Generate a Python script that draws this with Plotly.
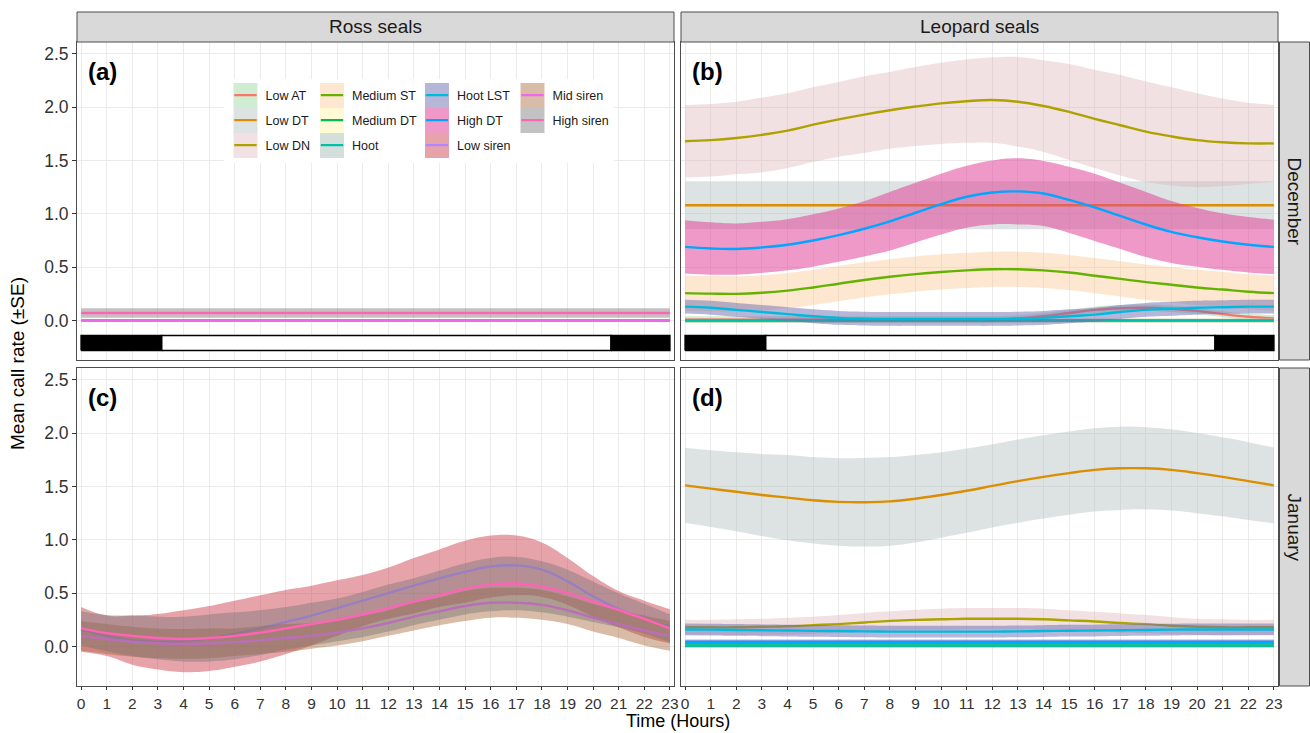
import plotly.graph_objects as go
from plotly.subplots import make_subplots

# ---------------- data ----------------
hours = list(range(24))

series_names = ["Low AT", "Low DT", "Low DN", "Medium ST", "Medium DT", "Hoot",
                "Hoot LST", "High DT", "Low siren", "Mid siren", "High siren"]
line_colors = ["#F8766D", "#DB8E00", "#AEA200", "#64B200", "#00BD5C", "#00C1A7",
               "#00BADE", "#00A6FF", "#B385FF", "#EF67EB", "#FF63B6"]
fill_colors = ["rgba(120,200,130,0.35)", "rgba(170,185,185,0.40)", "rgba(215,170,175,0.35)",
               "rgba(250,195,140,0.40)", "rgba(255,240,150,0.40)", "rgba(160,185,175,0.45)",
               "rgba(110,110,180,0.50)", "rgba(225,70,155,0.55)", "rgba(205,60,75,0.47)",
               "rgba(165,95,45,0.42)", "rgba(120,120,120,0.45)"]

species = ["Ross seals", "Leopard seals"]
months = ["December", "January"]
panel_tags = ["(a)", "(b)", "(c)", "(d)"]
y_ticks = [0.0, 0.5, 1.0, 1.5, 2.0, 2.5]
y_tick_labels = ["0.0", "0.5", "1.0", "1.5", "2.0", "2.5"]

# December day/night bar (hours)
night_end = 3.15
night_start = 20.7
bar_bottom = -0.28
bar_top = -0.14

# (a) Ross seals, December
a_low_siren = [0.00, 0.00, 0.00, 0.00, 0.00, 0.00, 0.00, 0.00, 0.00, 0.00, 0.00, 0.00,
               0.00, 0.00, 0.00, 0.00, 0.00, 0.00, 0.00, 0.00, 0.00, 0.00, 0.00, 0.00]
a_low_siren_se = [0.015, 0.015, 0.015, 0.015, 0.015, 0.015, 0.015, 0.015, 0.015, 0.015, 0.015, 0.015,
                  0.015, 0.015, 0.015, 0.015, 0.015, 0.015, 0.015, 0.015, 0.015, 0.015, 0.015, 0.015]
a_mid_siren = [0.00, 0.00, 0.00, 0.00, 0.00, 0.00, 0.00, 0.00, 0.00, 0.00, 0.00, 0.00,
               0.00, 0.00, 0.00, 0.00, 0.00, 0.00, 0.00, 0.00, 0.00, 0.00, 0.00, 0.00]
a_mid_siren_se = [0.01, 0.01, 0.01, 0.01, 0.01, 0.01, 0.01, 0.01, 0.01, 0.01, 0.01, 0.01,
                  0.01, 0.01, 0.01, 0.01, 0.01, 0.01, 0.01, 0.01, 0.01, 0.01, 0.01, 0.01]
a_high_siren = [0.07, 0.07, 0.07, 0.07, 0.07, 0.07, 0.07, 0.07, 0.07, 0.07, 0.07, 0.07,
                0.07, 0.07, 0.07, 0.07, 0.07, 0.07, 0.07, 0.07, 0.07, 0.07, 0.07, 0.07]
a_high_siren_se = [0.045, 0.045, 0.045, 0.045, 0.045, 0.045, 0.045, 0.045, 0.045, 0.045, 0.045, 0.045,
                   0.045, 0.045, 0.045, 0.045, 0.045, 0.045, 0.045, 0.045, 0.045, 0.045, 0.045, 0.045]

# (b) Leopard seals, December
b_low_at = [0.01, 0.01, 0.01, 0.01, 0.01, 0.01, 0.01, 0.01, 0.01, 0.01, 0.01, 0.01,
            0.01, 0.02, 0.04, 0.07, 0.10, 0.115, 0.12, 0.11, 0.09, 0.06, 0.035, 0.02]
b_low_at_se = [0.03, 0.03, 0.03, 0.03, 0.03, 0.03, 0.03, 0.03, 0.03, 0.03, 0.03, 0.03,
               0.03, 0.03, 0.03, 0.03, 0.03, 0.03, 0.03, 0.03, 0.03, 0.03, 0.03, 0.03]
b_low_dt = [1.08, 1.08, 1.08, 1.08, 1.08, 1.08, 1.08, 1.08, 1.08, 1.08, 1.08, 1.08,
            1.08, 1.08, 1.08, 1.08, 1.08, 1.08, 1.08, 1.08, 1.08, 1.08, 1.08, 1.08]
b_low_dt_se = [0.225, 0.225, 0.225, 0.225, 0.225, 0.225, 0.225, 0.225, 0.225, 0.225, 0.225, 0.225,
               0.225, 0.225, 0.225, 0.225, 0.225, 0.225, 0.225, 0.225, 0.225, 0.225, 0.225, 0.225]
b_low_dn = [1.68, 1.69, 1.71, 1.74, 1.78, 1.835, 1.885, 1.93, 1.97, 2.005, 2.035, 2.055,
            2.066, 2.05, 2.01, 1.955, 1.89, 1.83, 1.77, 1.725, 1.69, 1.67, 1.66, 1.66]
b_low_dn_se = [0.34, 0.34, 0.34, 0.35, 0.35, 0.35, 0.35, 0.36, 0.36, 0.37, 0.38, 0.39,
               0.40, 0.42, 0.43, 0.45, 0.46, 0.47, 0.47, 0.46, 0.44, 0.41, 0.38, 0.36]
b_medium_st = [0.257, 0.252, 0.25, 0.26, 0.28, 0.31, 0.345, 0.38, 0.41, 0.435, 0.455, 0.47,
               0.48, 0.48, 0.47, 0.45, 0.42, 0.39, 0.36, 0.335, 0.31, 0.29, 0.27, 0.257]
b_medium_st_se = [0.165, 0.165, 0.165, 0.165, 0.165, 0.165, 0.165, 0.165, 0.165, 0.165, 0.165, 0.165,
                  0.165, 0.165, 0.165, 0.165, 0.165, 0.165, 0.165, 0.165, 0.165, 0.165, 0.165, 0.165]
b_medium_dt = [0.00, 0.00, 0.00, 0.00, 0.00, 0.00, 0.00, 0.00, 0.00, 0.00, 0.00, 0.00,
               0.00, 0.00, 0.00, 0.00, 0.00, 0.00, 0.00, 0.00, 0.00, 0.00, 0.00, 0.00]
b_medium_dt_se = [0.02, 0.02, 0.02, 0.02, 0.02, 0.02, 0.02, 0.02, 0.02, 0.02, 0.02, 0.02,
                  0.02, 0.02, 0.02, 0.02, 0.02, 0.02, 0.02, 0.02, 0.02, 0.02, 0.02, 0.02]
b_hoot = [0.00, 0.00, 0.00, 0.00, 0.00, 0.00, 0.00, 0.00, 0.00, 0.00, 0.00, 0.00,
          0.00, 0.00, 0.00, 0.00, 0.00, 0.00, 0.00, 0.00, 0.00, 0.00, 0.00, 0.00]
b_hoot_se = [0.02, 0.02, 0.02, 0.02, 0.02, 0.02, 0.02, 0.02, 0.02, 0.02, 0.02, 0.02,
             0.02, 0.02, 0.02, 0.02, 0.02, 0.02, 0.02, 0.02, 0.02, 0.02, 0.02, 0.02]
b_hoot_lst = [0.13, 0.12, 0.10, 0.08, 0.06, 0.04, 0.025, 0.018, 0.015, 0.015, 0.015, 0.015,
              0.015, 0.018, 0.025, 0.04, 0.055, 0.08, 0.10, 0.11, 0.12, 0.125, 0.13, 0.13]
b_hoot_lst_se = [0.065, 0.065, 0.065, 0.065, 0.065, 0.065, 0.065, 0.065, 0.065, 0.065, 0.065, 0.065,
                 0.065, 0.065, 0.065, 0.065, 0.065, 0.065, 0.065, 0.065, 0.065, 0.065, 0.065, 0.065]
b_high_dt = [0.69, 0.675, 0.67, 0.685, 0.71, 0.75, 0.80, 0.86, 0.93, 1.01, 1.09, 1.16,
             1.20, 1.21, 1.19, 1.13, 1.06, 0.98, 0.90, 0.83, 0.78, 0.74, 0.71, 0.69]
b_high_dt_se = [0.25, 0.245, 0.24, 0.24, 0.24, 0.245, 0.25, 0.26, 0.275, 0.28, 0.285, 0.29,
                0.30, 0.31, 0.305, 0.31, 0.315, 0.31, 0.305, 0.29, 0.275, 0.265, 0.26, 0.255]

# (c) Ross seals, January
c_low_siren = [0.16, 0.10, 0.06, 0.045, 0.05, 0.075, 0.12, 0.17, 0.23, 0.29, 0.36, 0.43,
               0.50, 0.57, 0.64, 0.70, 0.75, 0.76, 0.72, 0.61, 0.47, 0.35, 0.26, 0.19]
c_low_siren_se = [0.21, 0.19, 0.23, 0.26, 0.29, 0.305, 0.31, 0.31, 0.30, 0.28, 0.26, 0.24,
                  0.24, 0.26, 0.27, 0.29, 0.29, 0.28, 0.255, 0.22, 0.19, 0.17, 0.17, 0.16]
c_mid_siren = [0.10, 0.07, 0.045, 0.03, 0.025, 0.03, 0.04, 0.06, 0.08, 0.10, 0.13, 0.17,
               0.22, 0.28, 0.33, 0.38, 0.41, 0.41, 0.39, 0.34, 0.27, 0.21, 0.15, 0.10]
c_mid_siren_se = [0.14, 0.14, 0.14, 0.14, 0.14, 0.14, 0.13, 0.13, 0.13, 0.12, 0.12, 0.12,
                  0.12, 0.13, 0.13, 0.14, 0.14, 0.14, 0.14, 0.13, 0.13, 0.13, 0.14, 0.14]
c_high_siren = [0.17, 0.125, 0.10, 0.08, 0.07, 0.08, 0.10, 0.13, 0.17, 0.21, 0.25, 0.30,
                0.36, 0.42, 0.48, 0.54, 0.58, 0.59, 0.56, 0.50, 0.42, 0.34, 0.26, 0.17]
c_high_siren_se = [0.16, 0.17, 0.19, 0.20, 0.21, 0.22, 0.22, 0.21, 0.20, 0.20, 0.20, 0.21,
                   0.22, 0.22, 0.23, 0.24, 0.25, 0.25, 0.24, 0.22, 0.19, 0.16, 0.14, 0.13]

# (d) Leopard seals, January
d_low_at = [0.01, 0.01, 0.01, 0.01, 0.01, 0.01, 0.01, 0.01, 0.01, 0.01, 0.01, 0.01,
            0.01, 0.01, 0.01, 0.01, 0.01, 0.01, 0.01, 0.01, 0.01, 0.01, 0.01, 0.01]
d_low_at_se = [0.02, 0.02, 0.02, 0.02, 0.02, 0.02, 0.02, 0.02, 0.02, 0.02, 0.02, 0.02,
               0.02, 0.02, 0.02, 0.02, 0.02, 0.02, 0.02, 0.02, 0.02, 0.02, 0.02, 0.02]
d_low_dt = [1.51, 1.48, 1.45, 1.42, 1.395, 1.37, 1.355, 1.352, 1.36, 1.385, 1.42, 1.46,
            1.505, 1.55, 1.59, 1.625, 1.655, 1.67, 1.67, 1.655, 1.625, 1.59, 1.55, 1.51]
d_low_dt_se = [0.35, 0.36, 0.37, 0.385, 0.40, 0.405, 0.41, 0.415, 0.415, 0.41, 0.40, 0.395,
               0.39, 0.39, 0.39, 0.39, 0.39, 0.39, 0.385, 0.38, 0.375, 0.37, 0.365, 0.355]
d_low_dn = [0.18, 0.18, 0.18, 0.185, 0.19, 0.20, 0.21, 0.225, 0.24, 0.25, 0.255, 0.26,
            0.26, 0.26, 0.255, 0.245, 0.235, 0.22, 0.21, 0.195, 0.185, 0.18, 0.18, 0.18]
d_low_dn_se = [0.07, 0.07, 0.075, 0.075, 0.08, 0.08, 0.085, 0.09, 0.09, 0.095, 0.10, 0.10,
               0.10, 0.10, 0.10, 0.095, 0.09, 0.09, 0.085, 0.08, 0.075, 0.075, 0.07, 0.07]
d_medium_st = [0.025, 0.025, 0.025, 0.025, 0.025, 0.025, 0.025, 0.025, 0.025, 0.025, 0.025, 0.025,
               0.025, 0.025, 0.025, 0.025, 0.025, 0.025, 0.025, 0.025, 0.025, 0.025, 0.025, 0.025]
d_medium_st_se = [0.02, 0.02, 0.02, 0.02, 0.02, 0.02, 0.02, 0.02, 0.02, 0.02, 0.02, 0.02,
                  0.02, 0.02, 0.02, 0.02, 0.02, 0.02, 0.02, 0.02, 0.02, 0.02, 0.02, 0.02]
d_medium_dt = [0.005, 0.005, 0.005, 0.005, 0.005, 0.005, 0.005, 0.005, 0.005, 0.005, 0.005, 0.005,
               0.005, 0.005, 0.005, 0.005, 0.005, 0.005, 0.005, 0.005, 0.005, 0.005, 0.005, 0.005]
d_medium_dt_se = [0.01, 0.01, 0.01, 0.01, 0.01, 0.01, 0.01, 0.01, 0.01, 0.01, 0.01, 0.01,
                  0.01, 0.01, 0.01, 0.01, 0.01, 0.01, 0.01, 0.01, 0.01, 0.01, 0.01, 0.01]
d_hoot = [0.01, 0.01, 0.01, 0.01, 0.01, 0.01, 0.01, 0.01, 0.01, 0.01, 0.01, 0.01,
          0.01, 0.01, 0.01, 0.01, 0.01, 0.01, 0.01, 0.01, 0.01, 0.01, 0.01, 0.01]
d_hoot_se = [0.015, 0.015, 0.015, 0.015, 0.015, 0.015, 0.015, 0.015, 0.015, 0.015, 0.015, 0.015,
             0.015, 0.015, 0.015, 0.015, 0.015, 0.015, 0.015, 0.015, 0.015, 0.015, 0.015, 0.015]
d_hoot_lst = [0.16, 0.158, 0.155, 0.152, 0.15, 0.147, 0.145, 0.142, 0.14, 0.14, 0.14, 0.14,
              0.14, 0.142, 0.145, 0.148, 0.15, 0.153, 0.155, 0.158, 0.16, 0.16, 0.16, 0.16]
d_hoot_lst_se = [0.055, 0.055, 0.055, 0.055, 0.055, 0.055, 0.055, 0.055, 0.055, 0.055, 0.055, 0.055,
                 0.055, 0.055, 0.055, 0.055, 0.055, 0.055, 0.055, 0.055, 0.055, 0.055, 0.055, 0.055]
d_high_dt = [0.045, 0.045, 0.045, 0.045, 0.045, 0.045, 0.045, 0.045, 0.045, 0.045, 0.045, 0.045,
             0.045, 0.045, 0.045, 0.045, 0.045, 0.045, 0.045, 0.045, 0.045, 0.045, 0.045, 0.045]
d_high_dt_se = [0.02, 0.02, 0.02, 0.02, 0.02, 0.02, 0.02, 0.02, 0.02, 0.02, 0.02, 0.02,
                0.02, 0.02, 0.02, 0.02, 0.02, 0.02, 0.02, 0.02, 0.02, 0.02, 0.02, 0.02]

panel_a = [("Low siren", a_low_siren, a_low_siren_se),
           ("Mid siren", a_mid_siren, a_mid_siren_se),
           ("High siren", a_high_siren, a_high_siren_se)]
panel_b = [("Low AT", b_low_at, b_low_at_se),
           ("Low DT", b_low_dt, b_low_dt_se),
           ("Low DN", b_low_dn, b_low_dn_se),
           ("Medium ST", b_medium_st, b_medium_st_se),
           ("Medium DT", b_medium_dt, b_medium_dt_se),
           ("Hoot", b_hoot, b_hoot_se),
           ("Hoot LST", b_hoot_lst, b_hoot_lst_se),
           ("High DT", b_high_dt, b_high_dt_se)]
panel_c = [("Low siren", c_low_siren, c_low_siren_se),
           ("Mid siren", c_mid_siren, c_mid_siren_se),
           ("High siren", c_high_siren, c_high_siren_se)]
panel_d = [("Low AT", d_low_at, d_low_at_se),
           ("Low DT", d_low_dt, d_low_dt_se),
           ("Low DN", d_low_dn, d_low_dn_se),
           ("Medium ST", d_medium_st, d_medium_st_se),
           ("Medium DT", d_medium_dt, d_medium_dt_se),
           ("Hoot", d_hoot, d_hoot_se),
           ("Hoot LST", d_hoot_lst, d_hoot_lst_se),
           ("High DT", d_high_dt, d_high_dt_se)]

# legend layout (columns read top-to-bottom)
legend_columns = [["Low AT", "Low DT", "Low DN"],
                  ["Medium ST", "Medium DT", "Hoot"],
                  ["Hoot LST", "High DT", "Low siren"],
                  ["Mid siren", "High siren"]]

# ---------------- geometry (pixels) ----------------
W, H = 1310, 733
L, R, T, B = 77, 32, 42, 47
PW, PH = W - L - R, H - T - B


def px_x(px):
    return (px - L) / PW


def px_y(py):
    return (H - B - py) / PH


FONT = "Liberation Sans, Arial, Helvetica, sans-serif"
LINE_W = 2.4
SMOOTH = 1.2

fig = make_subplots(rows=2, cols=2)

x_dom = [[0.0, 597 / PW], [604 / PW, 1.0]]
y_dom = [[326 / PH, 1.0], [0.0, 318 / PH]]

panel_list = [((1, 1), panel_a), ((1, 2), panel_b), ((2, 1), panel_c), ((2, 2), panel_d)]

for (r, c), series in panel_list:
    for name, mean, se in series:
        i = series_names.index(name)
        lower = [m - s for m, s in zip(mean, se)]
        upper = [m + s for m, s in zip(mean, se)]
        fig.add_trace(go.Scatter(x=hours, y=lower, mode="lines",
                                 line=dict(width=0, shape="spline", smoothing=SMOOTH),
                                 showlegend=False, hoverinfo="skip"), row=r, col=c)
        fig.add_trace(go.Scatter(x=hours, y=upper, mode="lines",
                                 line=dict(width=0, shape="spline", smoothing=SMOOTH),
                                 fill="tonexty", fillcolor=fill_colors[i],
                                 showlegend=False, hoverinfo="skip"), row=r, col=c)
        fig.add_trace(go.Scatter(x=hours, y=mean, mode="lines", name=name,
                                 line=dict(color=line_colors[i], width=LINE_W, shape="spline",
                                           smoothing=SMOOTH),
                                 showlegend=False), row=r, col=c)

# day / night bar on December panels
bar_segments = [(hours[0], night_end, "black"),
                (night_end, night_start, "white"),
                (night_start, hours[-1], "black")]
for c in (1, 2):
    for x0, x1, col in bar_segments:
        fig.add_trace(go.Scatter(x=[x0, x1, x1, x0, x0],
                                 y=[bar_bottom, bar_bottom, bar_top, bar_top, bar_bottom],
                                 mode="lines", fill="toself", fillcolor=col,
                                 line=dict(color="black", width=1.5),
                                 showlegend=False, hoverinfo="skip"), row=1, col=c)

# legend: one small legend per entry so the grid matches the original
col_key_cx = [245.5, 332.0, 437.0, 532.5]
row_cy = [95.5, 120.5, 145.5]
key_w, key_h = 24, 25
legend_layouts = {}
shapes = []
shapes.append(dict(type="rect", xref="paper", yref="paper",
                   x0=px_x(224), x1=px_x(614), y0=px_y(163), y1=px_y(79),
                   fillcolor="white", line=dict(width=0), layer="above"))
k = 0
for ci, column in enumerate(legend_columns):
    for ri, name in enumerate(column):
        i = series_names.index(name)
        k += 1
        lname = "legend" if k == 1 else "legend%d" % k
        cx, cy = col_key_cx[ci], row_cy[ri]
        shapes.append(dict(type="rect", xref="paper", yref="paper",
                           x0=px_x(cx - key_w / 2), x1=px_x(cx + key_w / 2),
                           y0=px_y(cy + key_h / 2), y1=px_y(cy - key_h / 2),
                           fillcolor=fill_colors[i], line=dict(width=0), layer="above"))
        fig.add_trace(go.Scatter(x=[None], y=[None], mode="markers", name=name,
                                 marker=dict(symbol="line-ew", size=16, color=line_colors[i],
                                             line=dict(color=line_colors[i], width=2.4)),
                                 showlegend=True, legend=lname, hoverinfo="skip"),
                      row=1, col=1)
        legend_layouts[lname] = dict(x=px_x(cx - 20), y=px_y(cy), xanchor="left", yanchor="middle",
                                     bgcolor="rgba(0,0,0,0)", borderwidth=0,
                                     font=dict(family=FONT, size=12.5, color="#1a1a1a"),
                                     itemsizing="trace", orientation="v",
                                     itemclick=False, itemdoubleclick=False)

# strips
strip_fill = "#D9D9D9"
strip_line = "#4d4d4d"
annotations = []
for ci, name in enumerate(species):
    shapes.append(dict(type="rect", xref="paper", yref="paper",
                       x0=x_dom[ci][0], x1=x_dom[ci][1], y0=1.0, y1=px_y(12),
                       fillcolor=strip_fill, line=dict(color=strip_line, width=1), layer="above"))
    annotations.append(dict(text=name, xref="paper", yref="paper",
                            x=(x_dom[ci][0] + x_dom[ci][1]) / 2, y=(1.0 + px_y(12)) / 2,
                            xanchor="center", yanchor="middle", showarrow=False,
                            font=dict(family=FONT, size=19, color="#1a1a1a")))
for ri, name in enumerate(months):
    shapes.append(dict(type="rect", xref="paper", yref="paper",
                       x0=px_x(1279.5), x1=px_x(1309.5), y0=y_dom[ri][0], y1=y_dom[ri][1],
                       fillcolor=strip_fill, line=dict(color=strip_line, width=1), layer="above"))
    annotations.append(dict(text=name, xref="paper", yref="paper",
                            x=(px_x(1279.5) + px_x(1309.5)) / 2, y=(y_dom[ri][0] + y_dom[ri][1]) / 2,
                            xanchor="center", yanchor="middle", showarrow=False, textangle=90,
                            font=dict(family=FONT, size=19, color="#1a1a1a")))

# panel tags
axis_ids = [("x", "y"), ("x2", "y2"), ("x3", "y3"), ("x4", "y4")]
for (xa, ya), tag in zip(axis_ids, panel_tags):
    annotations.append(dict(text="<b>%s</b>" % tag, xref=xa, yref=ya, x=0.2, y=2.33,
                            xanchor="left", yanchor="middle", showarrow=False,
                            font=dict(family=FONT, size=24, color="black")))

# axis titles
annotations.append(dict(text="Time (Hours)", xref="paper", yref="paper",
                        x=px_x(678), y=px_y(733), xanchor="center", yanchor="bottom",
                        showarrow=False, font=dict(family=FONT, size=18, color="black")))
annotations.append(dict(text="Mean call rate (±SE)", xref="paper", yref="paper",
                        x=px_x(17), y=px_y(364), xanchor="center", yanchor="middle",
                        textangle=-90, showarrow=False,
                        font=dict(family=FONT, size=19, color="black")))

# axes
for r in (1, 2):
    for c in (1, 2):
        fig.update_xaxes(domain=x_dom[c - 1], range=[-0.16, 23.16], tickmode="array",
                         tickvals=hours, ticktext=[str(h) for h in hours],
                         showticklabels=(r == 2), ticks="outside" if r == 2 else "",
                         ticklen=3, tickwidth=1, tickcolor="#333333",
                         tickfont=dict(family=FONT, size=15.5, color="#333333"),
                         showgrid=True, gridcolor="#EBEBEB", gridwidth=1, zeroline=False,
                         showline=True, mirror=True, linecolor="#4d4d4d", linewidth=1,
                         row=r, col=c)
        fig.update_yaxes(domain=y_dom[r - 1], range=[-0.37, 2.61], tickmode="array",
                         tickvals=y_ticks, ticktext=y_tick_labels,
                         showticklabels=(c == 1), ticks="outside" if c == 1 else "",
                         ticklen=4, tickwidth=1, tickcolor="#333333",
                         tickfont=dict(family=FONT, size=17.5, color="#333333"),
                         showgrid=True, gridcolor="#EBEBEB", gridwidth=1, zeroline=False,
                         showline=True, mirror=True, linecolor="#4d4d4d", linewidth=1,
                         row=r, col=c)

fig.update_layout(width=W, height=H, margin=dict(l=L, r=R, t=T, b=B),
                  paper_bgcolor="white", plot_bgcolor="white",
                  font=dict(family=FONT, color="#1a1a1a"),
                  shapes=shapes, annotations=annotations, showlegend=True,
                  hovermode=False, **legend_layouts)

fig.write_html("out.html")
